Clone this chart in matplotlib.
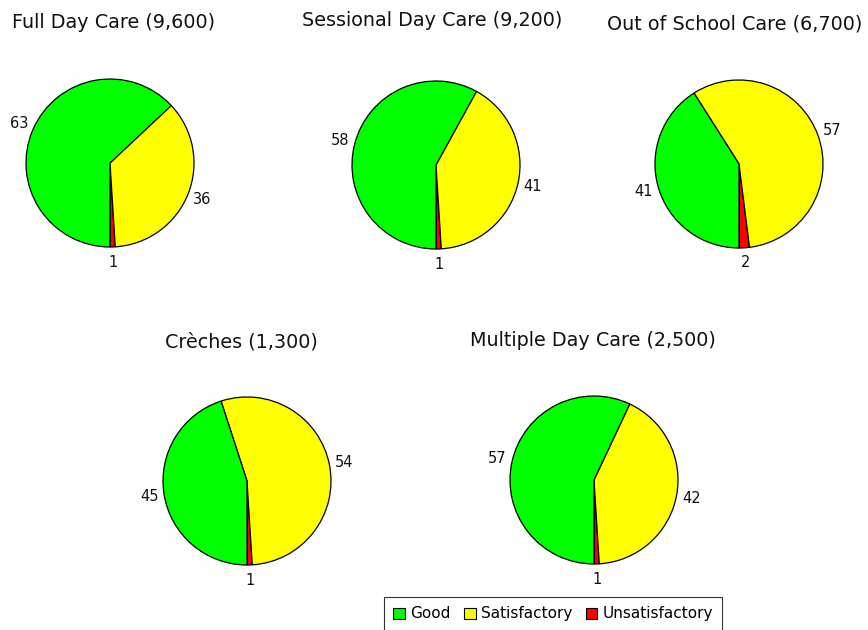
import matplotlib
matplotlib.use("Agg")
import matplotlib.pyplot as plt
from matplotlib.patches import Patch

categories = ["Unsatisfactory", "Satisfactory", "Good"]
colors = ["#FF0000", "#FFFF00", "#00FF00"]

titles = ["Full Day Care (9,600)", "Sessional Day Care (9,200)", "Out of School Care (6,700)",
          "Crèches (1,300)", "Multiple Day Care (2,500)"]
full_day = [1, 36, 63]
sessional = [1, 41, 58]
out_of_school = [2, 57, 41]
creches = [1, 54, 45]
multiple = [1, 42, 57]
series = [full_day, sessional, out_of_school, creches, multiple]

W, H = 868, 630
fig = plt.figure(figsize=(W / 100, H / 100), dpi=100)

# pie centres (px) and title positions (px)
centres = [(110, 163), (436, 165), (739, 164), (247, 481), (594, 480)]
title_pos = [(12, 22, "left"), (432, 20, "center"), (735, 24, "center"),
             (241, 342, "center"), (593, 340, "center")]
R = 84
L = 1.45

for vals, (cx, cy), title, (tx, ty, ha) in zip(series, centres, titles, title_pos):
    size = 2 * R * L
    ax = fig.add_axes([(cx - size / 2) / W, 1 - (cy + size / 2) / H, size / W, size / H])
    ax.pie(vals, colors=colors, startangle=270, counterclock=True,
           wedgeprops=dict(edgecolor="black", linewidth=0.9),
           autopct=lambda p: f"{p:.0f}", pctdistance=1.18,
           textprops=dict(fontsize=10.5, color="#111111"))
    ax.set_xlim(-L, L)
    ax.set_ylim(-L, L)
    ax.set_aspect("equal")
    ax.axis("off")
    fig.text(tx / W, 1 - ty / H, title, ha=ha, va="center", fontsize=13.8, color="#111111")

handles = [Patch(facecolor=c, edgecolor="black", linewidth=0.8, label=n)
           for c, n in zip(["#00FF00", "#FFFF00", "#FF0000"], ["Good", "Satisfactory", "Unsatisfactory"])]
leg = fig.legend(handles=handles, loc="upper left", bbox_to_anchor=(384 / W, 1 - 597 / H),
                 ncol=3, fontsize=11, frameon=True, fancybox=False, borderpad=0.62,
                 handlelength=0.75, handleheight=0.75, handletextpad=0.33, columnspacing=0.9,
                 borderaxespad=0)
leg.get_frame().set_edgecolor("black")
leg.get_frame().set_linewidth(0.8)

fig.savefig("out.png", dpi=100)
